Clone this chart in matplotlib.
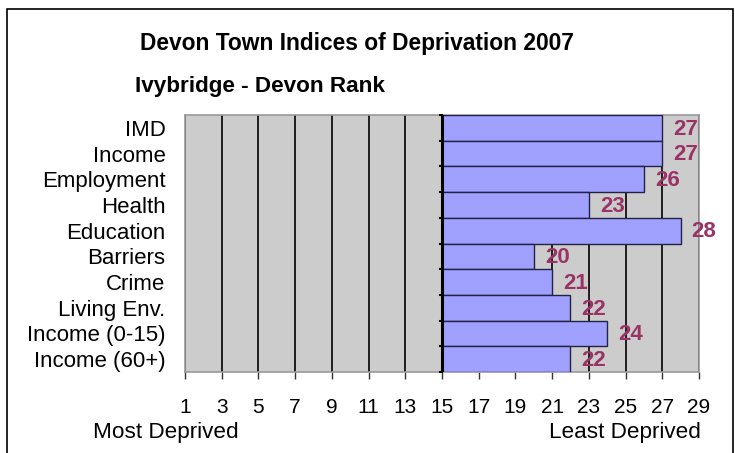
import numpy as np
import matplotlib.pyplot as plt

plt.rcParams['font.family'] = ['Liberation Sans', 'DejaVu Sans']

categories = ['IMD', 'Income', 'Employment', 'Health', 'Education', 'Barriers',
              'Crime', 'Living Env.', 'Income (0-15)', 'Income (60+)']
ranks = [27, 27, 26, 23, 28, 20, 21, 22, 24, 22]
xticks = list(range(1, 30, 2))
base = 15

fig = plt.figure(figsize=(7.35, 4.53), dpi=100)
# outer chart border
fig.add_artist(plt.Rectangle((0.009, -0.01), 0.988, 0.99, transform=fig.transFigure,
                             fill=False, edgecolor='black', linewidth=1.2))
ax = fig.add_axes([0.2517, 0.1788, 0.6993, 0.5673])
ax.set_facecolor('#cccccc')

y = np.arange(len(categories))
widths = [r - base for r in ranks]
ax.barh(y, widths, left=base, height=1.0, color='#a0a0ff', edgecolor='#222244',
        linewidth=1.0, zorder=3)
for yi, r in zip(y, ranks):
    ax.text(r + 0.6, yi + 0.05, str(r), va='center', ha='left', color='#993366',
            fontsize=16, fontweight='bold', zorder=4)

ax.set_xlim(1, 29)
ax.set_ylim(len(categories) - 0.5, -0.5)
ax.set_xticks(xticks)
ax.set_xticklabels([str(t) for t in xticks], fontsize=15)
ax.tick_params(axis='x', direction='out', length=5, width=1, pad=14, color='#333333')
ax.grid(axis='x', color='black', linewidth=1.2, zorder=1)

# category labels on the left, axis line drawn at rank 15
ax.set_yticks(y)
ax.set_yticklabels(categories, fontsize=16)
ax.tick_params(axis='y', length=0, pad=14)
for b in np.arange(-0.5, len(categories) + 0.5, 1):
    ax.plot([base - 0.12, base], [b, b], color='black', linewidth=1.5, zorder=5,
            clip_on=False)
ax.axvline(base, color='black', linewidth=2.2, zorder=5)

for s in ax.spines.values():
    s.set_color('#999999')
    s.set_linewidth(1.2)

fig.text(0.19, 0.905, 'Devon Town Indices of Deprivation 2007', fontsize=16.4,
         fontweight='bold', va='center')
fig.text(0.183, 0.81, 'Ivybridge - Devon Rank', fontsize=16.2,
         fontweight='bold', va='center')
fig.text(0.127, 0.045, 'Most Deprived', fontsize=16.2, va='center')
fig.text(0.953, 0.045, 'Least Deprived', fontsize=16.2, va='center', ha='right')

fig.savefig('out.png', dpi=100)
